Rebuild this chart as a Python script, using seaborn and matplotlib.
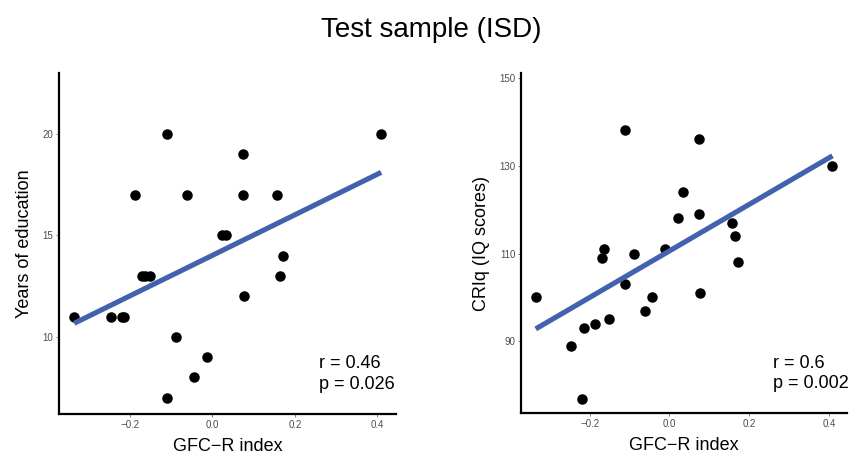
import matplotlib
matplotlib.use("Agg")
import matplotlib.pyplot as plt
import pandas as pd
import seaborn as sns

# GFC-R index per participant (shared by both panels)
gfc_r = [-0.335, -0.247, -0.219, -0.214, -0.187, -0.170, -0.163, -0.152,
         -0.111, -0.111, -0.089, -0.062, -0.044, -0.012, 0.022, 0.033,
         0.075, 0.075, 0.077, 0.157, 0.164, 0.171, 0.409]
years_edu = [11, 11, 11, 11, 17, 13, 13, 13,
             20, 7, 10, 17, 8, 9, 15, 15,
             19, 17, 12, 17, 13, 14, 20]
criq = [100, 89, 77, 93, 94, 109, 111, 95,
        138, 103, 110, 97, 100, 111, 118, 124,
        136, 119, 101, 117, 114, 108, 130]

x_ticks = [-0.2, 0.0, 0.2, 0.4]
edu_ticks = [10, 15, 20]
iq_ticks = [90, 110, 130, 150]

title = "Test sample (ISD)"
x_label = "GFC\u2212R index"
edu_label = "Years of education"
iq_label = "CRIq (IQ scores)"
edu_stats = "r = 0.46\np = 0.026"
iq_stats = "r = 0.6\np = 0.002"

df = pd.DataFrame({"gfc": gfc_r, "edu": years_edu, "iq": criq})

sns.set_style("white")
plt.rcParams["font.family"] = ["Liberation Sans", "DejaVu Sans"]
plt.rcParams.update({"text.color": "black", "axes.labelcolor": "black"})

fig = plt.figure(figsize=(8.62, 4.55), dpi=100)
ax1 = fig.add_axes([0.0684, 0.090, 0.391, 0.750])
ax2 = fig.add_axes([0.6044, 0.092, 0.378, 0.747])

line_col = "#4262AD"


def panel(ax, ycol, ylabel, yticks, ylim, stats):
    sns.regplot(data=df, x="gfc", y=ycol, ax=ax, ci=None,
                scatter_kws={"s": 57, "color": "black", "alpha": 1, "linewidths": 0},
                line_kws={"color": line_col, "lw": 3.7, "solid_capstyle": "butt"})
    ax.set_xlim(-0.372, 0.445)
    ax.set_ylim(*ylim)
    ax.set_xticks(x_ticks)
    ax.set_xticklabels([f"{t:.1f}".replace("-", "\u2212") for t in x_ticks])
    ax.set_yticks(yticks)
    ax.set_yticklabels([str(t) for t in yticks])
    ax.set_xlabel(x_label, fontsize=13, labelpad=6)
    ax.set_ylabel(ylabel, fontsize=13, labelpad=7)
    ax.tick_params(axis="both", labelsize=7, colors="#4d4d4d", length=2,
                   width=0.5, pad=2, left=True, bottom=True)
    for side in ["top", "right"]:
        ax.spines[side].set_visible(False)
    for side in ["left", "bottom"]:
        ax.spines[side].set_linewidth(1.6)
        ax.spines[side].set_color("black")
    ax.text(0.772, 0.117, stats, transform=ax.transAxes, ha="left",
            va="center", fontsize=13, linespacing=1.25, clip_on=False)


panel(ax1, "edu", edu_label, edu_ticks, (6.2, 23.0), edu_stats)
panel(ax2, "iq", iq_label, iq_ticks, (73.7, 151.0), iq_stats)

fig.text(0.5, 0.935, title, ha="center", va="center", fontsize=20)

fig.savefig("out.png", dpi=100)
